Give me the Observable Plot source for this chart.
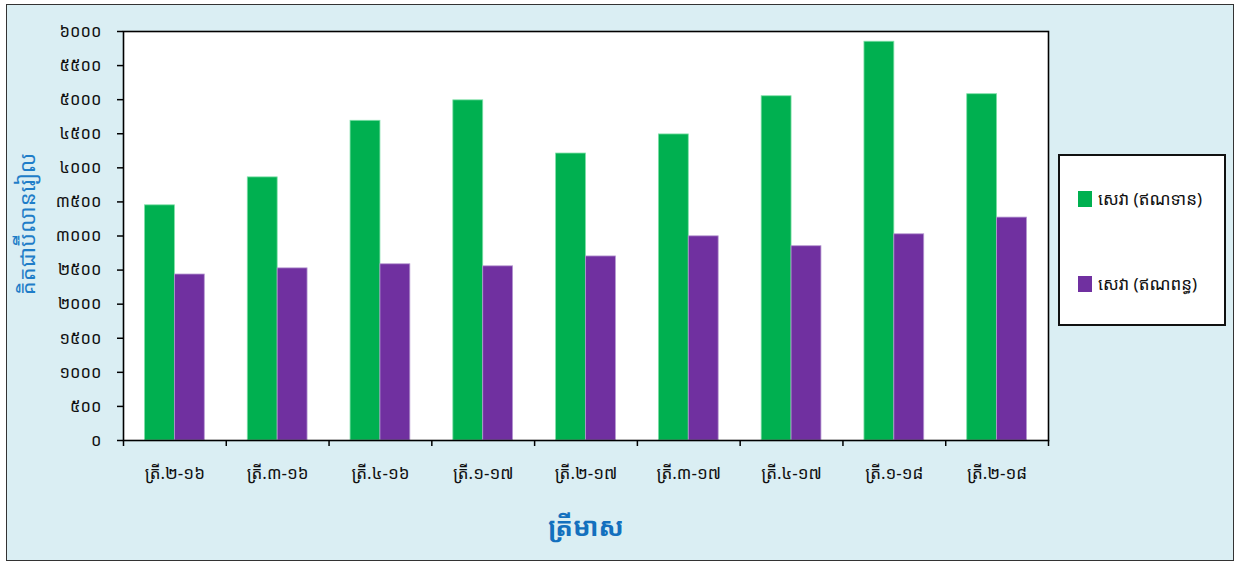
<!DOCTYPE html>
<html><head><meta charset="utf-8">
<script src="https://cdn.jsdelivr.net/npm/d3@7"></script>
<script src="https://cdn.jsdelivr.net/npm/@observablehq/plot@0.6"></script>
<style>
body{margin:0;background:#fff;}
#fig{position:relative;width:1239px;height:563px;font-family:"Noto Sans Khmer","Khmer OS","Khmer OS System","Noto Serif Khmer","Hanuman","Noto Sans",sans-serif;}
#box{position:absolute;left:6px;top:4px;width:1228px;height:557px;border:1.5px solid #333;background:#DAEEF3;box-sizing:border-box}
#chart{position:absolute;left:0;top:0}
#legend{position:absolute;left:1058px;top:154px;width:168px;height:172px;background:#fff;border:2px solid #111;box-sizing:border-box;}
.item{position:absolute;left:18px;display:flex;align-items:center;font-size:17px;color:#111;}
.sw{width:14px;height:16px;margin-right:6px;}
</style></head>
<body>
<div id="fig"><div id="box"></div><div id="chart"></div><div id="legend"></div></div>
<script>
const categories = ["ត្រី.២-១៦","ត្រី.៣-១៦","ត្រី.៤-១៦","ត្រី.១-១៧","ត្រី.២-១៧","ត្រី.៣-១៧","ត្រី.៤-១៧","ត្រី.១-១៨","ត្រី.២-១៨"];
const seriesNames = ["សេវា (ឥណទាន)","សេវា (ឥណពន្ធ)"];
const credit = [3450, 3860, 4690, 4990, 4210, 4490, 5050, 5850, 5080];
const debit  = [2435, 2525, 2585, 2555, 2700, 2995, 2850, 3025, 3270];
const yTicks = [0,500,1000,1500,2000,2500,3000,3500,4000,4500,5000,5500,6000];
const yTickLabels = ["០","៥០០","១០០០","១៥០០","២០០០","២៥០០","៣០០០","៣៥០០","៤០០០","៤៥០០","៥០០០","៥៥០០","៦០០០"];
const colors = ["#00B050","#7030A0"];
const yTitle = "គិតជាប៊ីលានរៀល";
const xTitle = "ត្រីមាស";

const W = 1239, H = 563, mL = 123, mR = 191, mT = 31, mB = 123;
const bw = (W - mL - mR) / categories.length;
const outer = 21.5;
const font = "'Noto Sans Khmer','Khmer OS','Khmer OS System','Noto Serif Khmer','Hanuman','Noto Sans',sans-serif";

const creditData = categories.map((c, i) => ({cat: c, value: credit[i]}));
const debitData = categories.map((c, i) => ({cat: c, value: debit[i]}));

const chart = Plot.plot({
  width: W, height: H,
  marginLeft: mL, marginRight: mR, marginTop: mT, marginBottom: mB,
  style: {background: "transparent", fontFamily: font, color: "#111"},
  x: {domain: categories, padding: 0, round: false},
  y: {domain: [0, 6000]},
  marks: [
    Plot.frame({fill: "white"}),
    Plot.barY(creditData, {x: "cat", y: "value", fill: colors[0], insetLeft: outer, insetRight: bw/2, stroke: "#7fe0a8", strokeWidth: 0.8}),
    Plot.barY(debitData, {x: "cat", y: "value", fill: colors[1], insetLeft: bw/2, insetRight: outer, stroke: "#b597d0", strokeWidth: 0.8}),
    Plot.frame({stroke: "#000", strokeWidth: 1.6}),
    Plot.axisY({ticks: yTicks, tickFormat: d => yTickLabels[yTicks.indexOf(d)], tickSize: 6, tickPadding: 16, fontSize: 16.5, label: null, stroke: "#000", strokeWidth: 1.5}),
    Plot.axisX({tickSize: 0, tickPadding: 26, fontSize: 17, label: null}),
    Plot.axisX({tickSize: 6, tickFormat: () => "", dx: -bw/2, label: null, stroke: "#000", strokeWidth: 1.5}),
    Plot.axisX({ticks: [categories[categories.length-1]], tickSize: 6, tickFormat: () => "", dx: bw/2, label: null, stroke: "#000", strokeWidth: 1.5}),
    Plot.text([yTitle], {text: d => d, frameAnchor: "left", rotate: -90, textAnchor: "middle", dx: -96, dy: -12, fill: "#1F7DC8", fontSize: 22}),
    Plot.text([xTitle], {text: d => d, frameAnchor: "bottom", dy: 95, fill: "#1370BE", fontSize: 26, fontWeight: "bold"})
  ]
});
document.getElementById("chart").appendChild(chart);

const legend = document.getElementById("legend");
const tops = [31, 116];
seriesNames.forEach((n, i) => {
  const it = document.createElement("div");
  it.className = "item";
  it.style.top = tops[i] + "px";
  it.innerHTML = `<span class="sw" style="background:${colors[i]}"></span><span>${n}</span>`;
  legend.appendChild(it);
});
</script>
</body></html>
